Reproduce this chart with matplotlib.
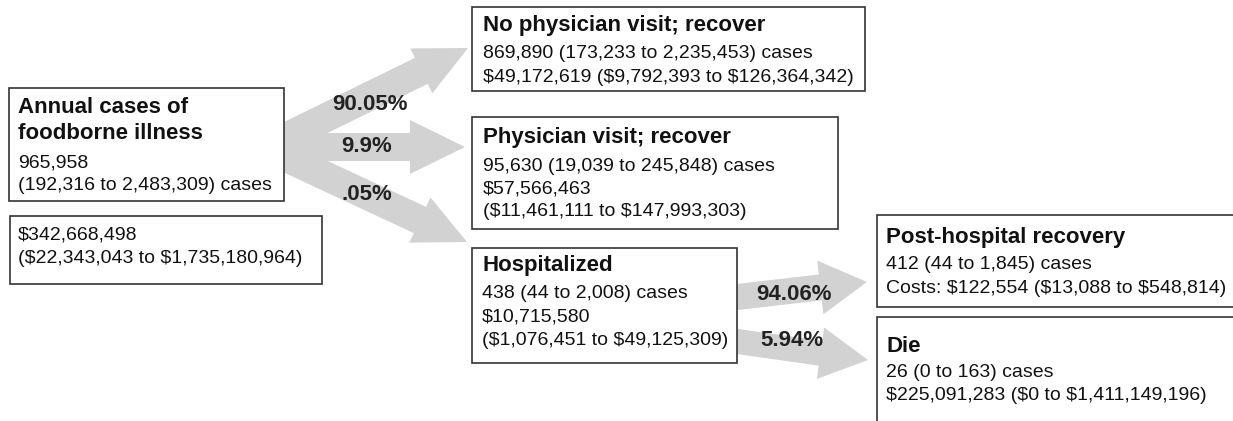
import matplotlib
matplotlib.use("Agg")
import matplotlib.pyplot as plt
from matplotlib.patches import Rectangle, FancyArrow

plt.rcParams['font.family'] = ['Liberation Sans', 'DejaVu Sans']
plt.rcParams['text.parse_math'] = False

# ---- text of the diagram ----
titles = ['Annual cases of\nfoodborne illness', '', 'No physician visit; recover',
          'Physician visit; recover', 'Hospitalized', 'Post-hospital recovery', 'Die']
bodies = [
    ['965,958', '(192,316 to 2,483,309) cases'],
    ['$342,668,498', '($22,343,043 to $1,735,180,964)'],
    ['869,890 (173,233 to 2,235,453) cases', '$49,172,619 ($9,792,393 to $126,364,342)'],
    ['95,630 (19,039 to 245,848) cases', '$57,566,463', '($11,461,111 to $147,993,303)'],
    ['438 (44 to 2,008) cases', '$10,715,580', '($1,076,451 to $49,125,309)'],
    ['412 (44 to 1,845) cases', 'Costs: $122,554 ($13,088 to $548,814)'],
    ['26 (0 to 163) cases', '$225,091,283 ($0 to $1,411,149,196)'],
]
pcts = ['90.05%', '9.9%', '.05%', '94.06%', '5.94%']

# ---- layout (pixel coords, y down) ----
# box: x0, y0, x1, y1, text-left, baselines of each line
boxes = [
    (9, 88, 284, 201, 18, [113, 139, 168, 190]),
    (10, 216, 322, 284, 18, [240, 263]),
    (472, 7, 865, 91, 483, [31, 58, 82]),
    (472, 117, 838, 229, 483, [143, 171, 194, 216]),
    (472, 248, 737, 363, 482, [271, 298, 322, 345]),
    (877, 215, 1260, 307, 886, [243, 269, 293]),
    (877, 317, 1260, 440, 886, [352, 377, 400]),
]
# arrows: start, tip, shaft width, head width, head length
arrows = [
    ((270, 145), (468, 48), 29, 50, 52),
    ((270, 147), (465, 147), 28, 54, 55),
    ((270, 150), (467, 242), 29, 50, 52),
    ((720, 299), (867, 282), 26, 54, 47),
    ((720, 339), (868, 360), 25, 52, 48),
]
pct_pos = [(370, 105), (367, 147), (367, 194), (794, 295), (792, 341)]

fig = plt.figure(figsize=(12.33, 4.21), dpi=100)
ax = fig.add_axes([0, 0, 1, 1])
ax.set_xlim(0, 1233)
ax.set_ylim(421, 0)
ax.axis('off')

arrow_col = '#d2d2d2'
for (x0, y0), (x1, y1), w, hw, hl in arrows:
    ax.add_patch(FancyArrow(x0, y0, x1 - x0, y1 - y0, width=w, head_width=hw,
                            head_length=hl, length_includes_head=True,
                            color=arrow_col, lw=0, zorder=1))

for i, (x0, y0, x1, y1, tx, bl) in enumerate(boxes):
    ax.add_patch(Rectangle((x0, y0), x1 - x0, y1 - y0, facecolor='white',
                           edgecolor='#333333', lw=1.2, zorder=2))
    lines = []
    if titles[i]:
        for t in titles[i].split('\n'):
            lines.append((t, True))
    for b in bodies[i]:
        lines.append((b, False))
    for (txt, bold), yb in zip(lines, bl):
        ax.text(tx, yb, txt, fontsize=16 if bold else 14,
                fontweight='bold' if bold else 'normal',
                color='#111111', va='baseline', ha='left', zorder=3)

for p, (x, y) in zip(pcts, pct_pos):
    ax.text(x, y, p, fontsize=16, fontweight='bold', color='#222222',
            ha='center', va='center', zorder=3)

fig.savefig('out.png', dpi=100)
